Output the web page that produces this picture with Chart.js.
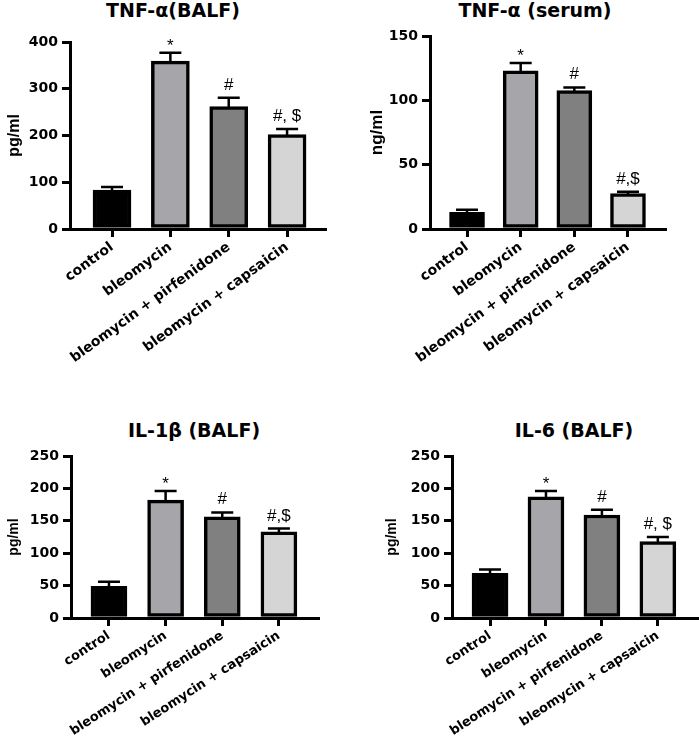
<!DOCTYPE html>
<html><head><meta charset="utf-8">
<script src="https://cdn.jsdelivr.net/npm/chart.js@4.4.0/dist/chart.umd.min.js"></script>
<style>
html,body{margin:0;padding:0;background:#fff;}
#wrap{position:relative;width:699px;height:739px;overflow:hidden;background:#fff;}
canvas{position:absolute;}
.t{position:absolute;font-family:"DejaVu Sans";font-weight:bold;font-size:19px;transform:translate(-50%,-50%);white-space:nowrap;color:#000;line-height:1.2;}
</style></head><body>
<div id="wrap">
<div class="t" style="left:173px;top:10px">TNF-α(BALF)</div>
<div class="t" style="left:535px;top:10px">TNF-α (serum)</div>
<div class="t" style="left:194px;top:430px">IL-1β (BALF)</div>
<div class="t" style="left:574px;top:430px">IL-6 (BALF)</div>
<canvas id="c1" width="340" height="380" style="left:0px;top:0px"></canvas>
<canvas id="c2" width="349" height="380" style="left:350px;top:0px"></canvas>
<canvas id="c3" width="340" height="359" style="left:0px;top:380px"></canvas>
<canvas id="c4" width="349" height="359" style="left:350px;top:380px"></canvas>
</div>
<script>
const categories = ['control', 'bleomycin', 'bleomycin + pirfenidone', 'bleomycin + capsaicin'];
const barColors = ['#000000', '#a5a5aa', '#808080', '#d5d5d5'];

const tnfBalfValues = [83, 359, 262, 202];
const tnfBalfErrors = [7, 18, 19, 12];
const tnfBalfMarks = ['', '*', '#', '#, $'];
const tnfBalfTicks = [0, 100, 200, 300, 400];

const tnfSerumValues = [13, 123, 107.5, 27.5];
const tnfSerumErrors = [2, 6, 2.5, 1.5];
const tnfSerumMarks = ['', '*', '#', '#,$'];
const tnfSerumTicks = [0, 50, 100, 150];

const il1bValues = [49, 182, 156, 133];
const il1bErrors = [7, 14, 7, 5];
const il1bMarks = ['', '*', '#', '#,$'];
const il1bTicks = [0, 50, 100, 150, 200, 250];

const il6Values = [69, 187, 159, 118];
const il6Errors = [6, 9, 8, 7];
const il6Marks = ['', '*', '#', '#, $'];
const il6Ticks = [0, 50, 100, 150, 200, 250];

const errPlugin = {
  id: 'errMarks',
  afterDatasetsDraw(chart, args, opts) {
    const ctx = chart.ctx, x = chart.scales.x, y = chart.scales.y;
    const ds = chart.data.datasets[0];
    ctx.save();
    ctx.strokeStyle = '#000';
    ctx.lineWidth = 2.5;
    ctx.fillStyle = '#000';
    opts.errors.forEach((e, i) => {
      const v = ds.data[i].y;
      const px = x.getPixelForValue(i);
      const y0 = y.getPixelForValue(v) + 2;
      const y1 = y.getPixelForValue(v + e);
      ctx.beginPath();
      ctx.moveTo(px, y0); ctx.lineTo(px, y1);
      ctx.moveTo(px - opts.cap / 2, y1); ctx.lineTo(px + opts.cap / 2, y1);
      ctx.stroke();
      const m = opts.marks[i];
      if (m) {
        ctx.font = '17px "Liberation Sans"';
        ctx.textAlign = 'center';
        ctx.textBaseline = 'alphabetic';
        ctx.fillText(m, px, y1 - (m === '*' ? 2 : 8));
      }
    });
    ctx.restore();
  }
};

function makePanel(id, values, errors, marks, yTicks, yTitle, g) {
  const tickFont = { family: 'DejaVu Sans', weight: 'bold', size: 14 };
  new Chart(document.getElementById(id), {
    type: 'bar',
    data: {
      datasets: [{
        data: values.map((v, i) => ({ x: i, y: v })),
        backgroundColor: barColors,
        borderColor: '#000',
        borderWidth: 3.5,
        borderSkipped: false,
        barThickness: g.bar
      }]
    },
    options: {
      responsive: false,
      animation: false,
      layout: { padding: g.pad },
      plugins: {
        legend: { display: false },
        tooltip: { enabled: false },
        errMarks: { errors: errors, marks: marks, cap: 22 }
      },
      scales: {
        x: {
          type: 'linear',
          min: g.xmin, max: g.xmax,
          offset: false,
          afterBuildTicks: s => { s.ticks = categories.map((c, i) => ({ value: i })); },
          afterFit: s => { s.height = g.xh; },
          ticks: {
            autoSkip: false, minRotation: g.rot, maxRotation: g.rot, color: '#000',
            font: { family: 'DejaVu Sans', weight: 'bold', size: g.xs }, padding: 2,
            callback: v => categories[v]
          },
          grid: { display: true, drawOnChartArea: false, drawTicks: true, tickLength: 8, color: '#000', lineWidth: 3, offset: false },
          border: { display: true, color: '#000', width: 3 }
        },
        y: {
          min: yTicks[0], max: yTicks[yTicks.length - 1],
          afterBuildTicks: s => { s.ticks = yTicks.map(v => ({ value: v })); },
          afterFit: s => { s.width = g.yw; },
          ticks: { color: '#000', font: tickFont, padding: 4 },
          grid: { display: true, drawOnChartArea: false, drawTicks: true, tickLength: 8, color: '#000', lineWidth: 3 },
          border: { display: true, color: '#000', width: 3 },
          title: { display: true, text: yTitle, color: '#000', font: { family: 'Liberation Sans', weight: 'bold', size: g.ts }, padding: { top: g.tp, bottom: 0 } }
        }
      }
    },
    plugins: [errPlugin]
  });
}

makePanel('c1', tnfBalfValues, tnfBalfErrors, tnfBalfMarks, tnfBalfTicks, 'pg/ml',
  { pad: { top: 42, left: 0, right: 15, bottom: 0 }, yw: 70, xh: 151, xmin: -0.72, xmax: 3.65, bar: 38, ts: 16, tp: 5, xs: 14, rot: 36 });
makePanel('c2', tnfSerumValues, tnfSerumErrors, tnfSerumMarks, tnfSerumTicks, 'ng/ml',
  { pad: { top: 36, left: 0, right: 34, bottom: 0 }, yw: 80, xh: 151, xmin: -0.69, xmax: 3.69, bar: 35, ts: 17, tp: 17, xs: 14, rot: 36 });
makePanel('c3', il1bValues, il1bErrors, il1bMarks, il1bTicks, 'pg/ml',
  { pad: { top: 76, left: 0, right: 22, bottom: 0 }, yw: 71, xh: 121, xmin: -0.67, xmax: 3.69, bar: 36, ts: 14, tp: 6, xs: 13, rot: 33 });
makePanel('c4', il6Values, il6Errors, il6Marks, il6Ticks, 'pg/ml',
  { pad: { top: 76, left: 0, right: 2, bottom: 0 }, yw: 102, xh: 121, xmin: -0.68, xmax: 3.70, bar: 36, ts: 14, tp: 34, xs: 13, rot: 33 });
</script>
</body></html>
